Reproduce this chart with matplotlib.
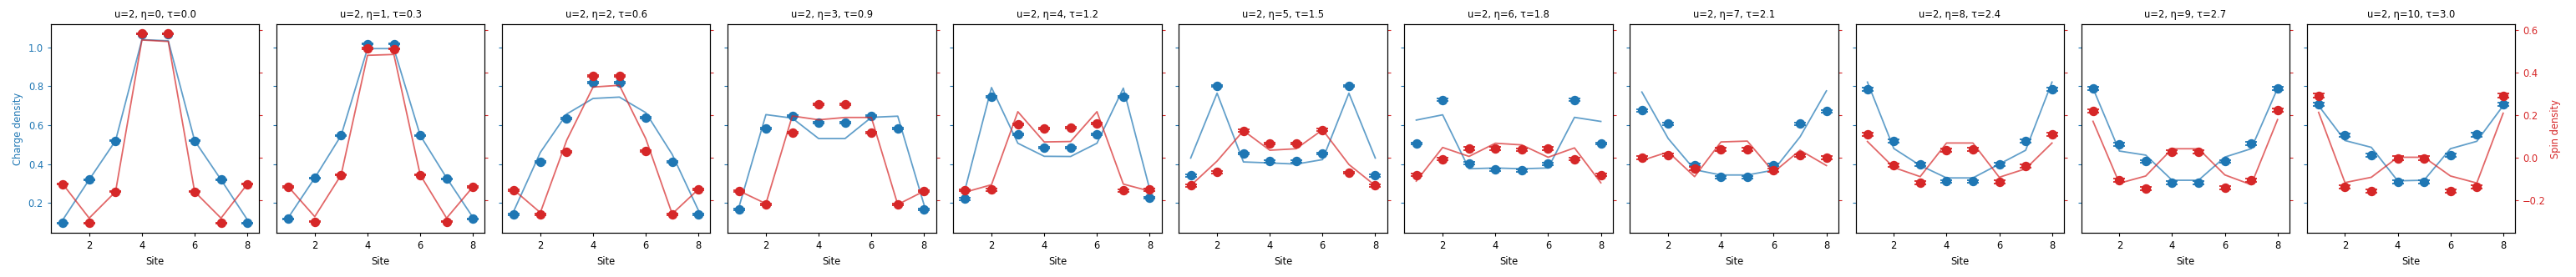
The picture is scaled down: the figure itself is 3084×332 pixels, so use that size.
import matplotlib
matplotlib.use("Agg")
import matplotlib.pyplot as plt
import numpy as np

sites = np.arange(1, 9)
u_val = 2
etas = [0, 1, 2, 3, 4, 5, 6, 7, 8, 9, 10]
taus = [0.0, 0.3, 0.6, 0.9, 1.2, 1.5, 1.8, 2.1, 2.4, 2.7, 3.0]

# measured charge density per site (markers)
charge_meas = [
    [0.097, 0.320, 0.520, 1.069, 1.069, 0.520, 0.320, 0.097],
    [0.119, 0.329, 0.547, 1.017, 1.017, 0.547, 0.324, 0.119],
    [0.141, 0.410, 0.633, 0.820, 0.817, 0.637, 0.410, 0.141],
    [0.167, 0.581, 0.647, 0.613, 0.613, 0.647, 0.581, 0.167],
    [0.221, 0.747, 0.554, 0.483, 0.483, 0.554, 0.747, 0.226],
    [0.341, 0.800, 0.454, 0.414, 0.414, 0.454, 0.800, 0.341],
    [0.506, 0.729, 0.404, 0.371, 0.367, 0.401, 0.729, 0.506],
    [0.676, 0.607, 0.396, 0.333, 0.333, 0.396, 0.607, 0.671],
    [0.783, 0.517, 0.397, 0.311, 0.311, 0.397, 0.517, 0.783],
    [0.789, 0.501, 0.414, 0.304, 0.304, 0.414, 0.506, 0.789],
    [0.706, 0.547, 0.446, 0.307, 0.307, 0.446, 0.551, 0.706],
]

# measured spin density per site (markers)
spin_meas = [
    [-0.124, -0.306, -0.160, 0.583, 0.583, -0.160, -0.306, -0.124],
    [-0.137, -0.300, -0.081, 0.514, 0.511, -0.081, -0.300, -0.137],
    [-0.152, -0.265, 0.029, 0.385, 0.385, 0.031, -0.265, -0.148],
    [-0.157, -0.220, 0.117, 0.251, 0.251, 0.117, -0.220, -0.157],
    [-0.153, -0.150, 0.157, 0.138, 0.141, 0.161, -0.154, -0.150],
    [-0.131, -0.068, 0.127, 0.067, 0.067, 0.131, -0.071, -0.131],
    [-0.082, -0.007, 0.043, 0.043, 0.039, 0.043, -0.007, -0.082],
    [0.000, 0.013, -0.052, 0.039, 0.039, -0.058, 0.010, 0.000],
    [0.110, -0.035, -0.119, 0.035, 0.039, -0.114, -0.039, 0.110],
    [0.219, -0.106, -0.145, 0.026, 0.026, -0.141, -0.106, 0.225],
    [0.291, -0.137, -0.157, -0.003, -0.003, -0.157, -0.137, 0.291],
]

# statistical uncertainty of the measurements
charge_err = [0.002, 0.003, 0.004, 0.004, 0.005, 0.005, 0.006, 0.007, 0.008, 0.008, 0.009]
spin_err = [0.002, 0.003, 0.004, 0.004, 0.005, 0.005, 0.006, 0.007, 0.008, 0.008, 0.009]

# exact reference curves
charge_exact = [
    [0.114, 0.320, 0.520, 1.039, 1.033, 0.520, 0.320, 0.114],
    [0.126, 0.329, 0.547, 0.993, 0.993, 0.547, 0.329, 0.126],
    [0.161, 0.460, 0.657, 0.737, 0.744, 0.664, 0.450, 0.161],
    [0.190, 0.654, 0.636, 0.531, 0.531, 0.640, 0.646, 0.190],
    [0.271, 0.793, 0.507, 0.440, 0.439, 0.507, 0.790, 0.271],
    [0.431, 0.764, 0.411, 0.406, 0.400, 0.423, 0.764, 0.431],
    [0.626, 0.653, 0.376, 0.380, 0.376, 0.380, 0.640, 0.619],
    [0.770, 0.531, 0.371, 0.344, 0.344, 0.369, 0.540, 0.776],
    [0.821, 0.480, 0.393, 0.329, 0.329, 0.400, 0.471, 0.821],
    [0.789, 0.467, 0.446, 0.317, 0.317, 0.436, 0.479, 0.789],
    [0.700, 0.521, 0.486, 0.314, 0.317, 0.479, 0.517, 0.700],
]

spin_exact = [
    [-0.124, -0.284, -0.160, 0.553, 0.546, -0.160, -0.284, -0.124],
    [-0.137, -0.277, -0.081, 0.481, 0.485, -0.081, -0.284, -0.137],
    [-0.152, -0.258, 0.082, 0.332, 0.340, 0.089, -0.264, -0.148],
    [-0.157, -0.216, 0.196, 0.178, 0.189, 0.189, -0.220, -0.157],
    [-0.162, -0.127, 0.216, 0.074, 0.076, 0.216, -0.124, -0.157],
    [-0.131, -0.016, 0.127, 0.035, 0.042, 0.131, -0.032, -0.131],
    [-0.110, 0.048, 0.006, 0.068, 0.060, 0.002, 0.046, -0.118],
    [-0.013, 0.027, -0.089, 0.074, 0.078, -0.068, 0.035, -0.037],
    [0.076, -0.046, -0.089, 0.069, 0.069, -0.092, -0.052, 0.069],
    [0.171, -0.120, -0.086, 0.042, 0.042, -0.081, -0.127, 0.179],
    [0.213, -0.117, -0.092, 0.002, 0.002, -0.086, -0.119, 0.209],
]

BLUE = "#1f77b4"
RED = "#d62728"

plt.rcParams["font.size"] = 8.3

n = len(etas)
fig, axes = plt.subplots(1, n, figsize=(30.84, 3.32), dpi=100, sharey=True)
fig.subplots_adjust(left=61 / 3084, right=3011 / 3084, bottom=1 - 279.3 / 332,
                    top=1 - 29.3 / 332, wspace=0.083)

twins = []
for i, ax in enumerate(axes):
    ax2 = ax.twinx()
    twins.append(ax2)

    ax.plot(sites, charge_exact[i], color=BLUE, alpha=0.7, lw=1.3)
    ax.errorbar(sites, charge_meas[i], yerr=charge_err[i], fmt="o", color=BLUE,
                ms=7.2, capsize=5, elinewidth=1.2, capthick=1.3)

    ax2.plot(sites, spin_exact[i], color=RED, alpha=0.7, lw=1.3)
    ax2.errorbar(sites, spin_meas[i], yerr=spin_err[i], fmt="o", color=RED,
                 ms=7.2, capsize=5, elinewidth=1.2, capthick=1.3)

    ax.set_title(f"u={u_val}, \u03b7={etas[i]}, \u03c4={taus[i]:.1f}", fontsize=8.3)
    ax.set_xlabel("Site", fontsize=8.3)
    ax.set_xticks([2, 4, 6, 8])
    ax.set_xlim(0.55, 8.45)
    ax.set_ylim(0.046, 1.117)
    ax.set_yticks([0.2, 0.4, 0.6, 0.8, 1.0])
    ax.tick_params(axis="y", colors=BLUE, labelcolor=BLUE)
    ax.tick_params(length=3, width=0.8)

    ax2.set_ylim(-0.354, 0.626)
    ax2.set_yticks([-0.2, 0.0, 0.2, 0.4, 0.6])
    ax2.tick_params(axis="y", colors=RED, labelcolor=RED, length=3, width=0.8)
    if i != n - 1:
        ax2.tick_params(axis="y", labelright=False)
    for a in (ax, ax2):
        for s in a.spines.values():
            s.set_linewidth(0.8)

axes[0].set_ylabel("Charge density", color=BLUE, fontsize=8.3)
twins[-1].set_ylabel("Spin density", color=RED, fontsize=8.3)

fig.savefig("out.png", dpi=100)
